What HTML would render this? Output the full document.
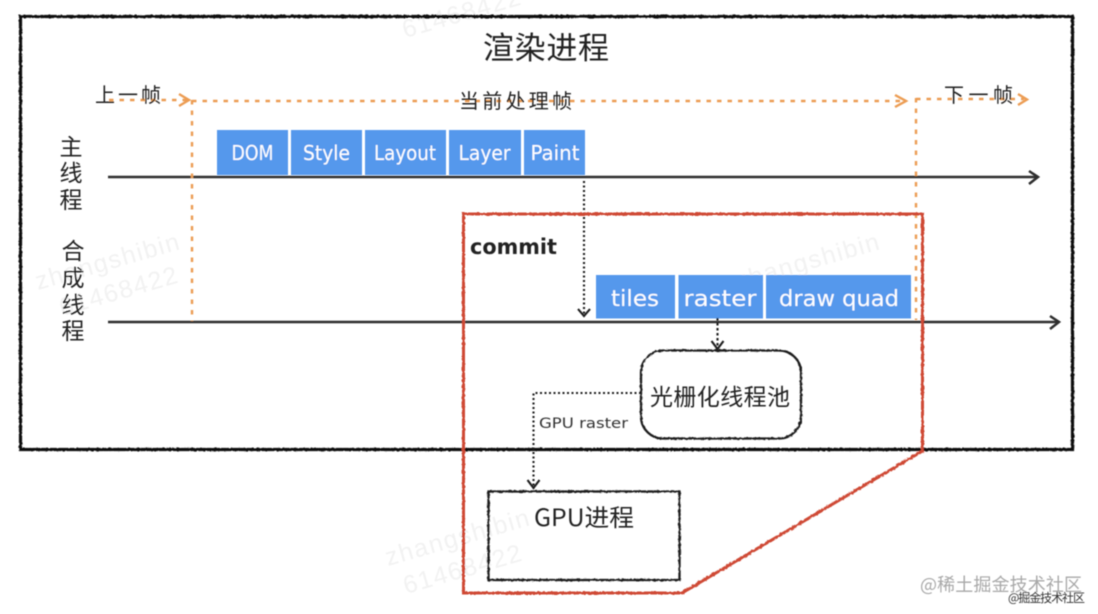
<!DOCTYPE html>
<html><head><meta charset="utf-8">
<style>
html,body{margin:0;padding:0;background:#fff;width:1098px;height:614px;overflow:hidden}
svg{display:block;font-family:"Liberation Sans","WenQuanYi Zen Hei","Noto Sans CJK SC",sans-serif}
.cjk{font-family:"WenQuanYi Zen Hei","Noto Sans CJK SC",sans-serif;fill:#222}
.lat{font-family:"DejaVu Sans","Liberation Sans",sans-serif}
.w{fill:#fff;font-family:"DejaVu Sans",sans-serif;text-anchor:middle}
.wm{font-family:"Liberation Sans",sans-serif;fill:#f2f2f2;font-size:25px;letter-spacing:1.500px}
</style></head><body>
<svg width="1098" height="614" viewBox="0 0 1098 614" xmlns="http://www.w3.org/2000/svg">
<defs>
<filter id="rough" x="-2%" y="-2%" width="104%" height="104%"><feTurbulence type="fractalNoise" baseFrequency="0.35" numOctaves="2" seed="3"/><feDisplacementMap in="SourceGraphic" scale="2"/></filter>
<filter id="soft"><feGaussianBlur stdDeviation="0.45"/></filter>
</defs>
<g filter="url(#soft)">
<!-- faint watermarks -->
<g class="wm">
<text transform="translate(38,290) rotate(-16)">zhangshibin</text>
<text transform="translate(62,316) rotate(-16)">61468422</text>
<text transform="translate(738,290) rotate(-16)">zhangshibin</text>
<text transform="translate(388,566) rotate(-16)">zhangshibin</text>
<text transform="translate(406,594) rotate(-16)">61468422</text>
<text transform="translate(405,38) rotate(-16)">61468422</text>
</g>
<!-- outer frame -->
<rect x="20.500" y="16.500" width="1052" height="433" fill="none" stroke="#111" stroke-width="3.200" filter="url(#rough)"/>
<!-- blue boxes -->
<g fill="#5598ec">
<rect x="217" y="130" width="71" height="45"/>
<rect x="291" y="130" width="71" height="45"/>
<rect x="365" y="130" width="81" height="45"/>
<rect x="449" y="130" width="72" height="45"/>
<rect x="524" y="130" width="61" height="45"/>
<rect x="596" y="275" width="79" height="43.500"/>
<rect x="678.500" y="275" width="84.500" height="43.500"/>
<rect x="766" y="275" width="145" height="43.500"/>
</g>
<g class="w" font-size="20">
<text x="252.500" y="160" textLength="42" lengthAdjust="spacingAndGlyphs">DOM</text>
<text x="326.500" y="160" textLength="47" lengthAdjust="spacingAndGlyphs">Style</text>
<text x="405" y="160" textLength="62" lengthAdjust="spacingAndGlyphs">Layout</text>
<text x="484.500" y="160" textLength="52" lengthAdjust="spacingAndGlyphs">Layer</text>
<text x="555" y="160" textLength="49" lengthAdjust="spacingAndGlyphs">Paint</text>
</g>
<g class="w" font-size="22">
<text x="635" y="306" textLength="48" lengthAdjust="spacingAndGlyphs">tiles</text>
<text x="720" y="306" textLength="73" lengthAdjust="spacingAndGlyphs">raster</text>
<text x="839" y="306" textLength="120" lengthAdjust="spacingAndGlyphs">draw quad</text>
</g>
<!-- timelines -->
<g fill="none" stroke="#2e2e2e" stroke-width="2.500">
<path d="M108 177H1036"/>
<path d="M1029 171L1038 177L1029 184"/>
<path d="M108 322H1057"/>
<path d="M1050 316L1059 322L1050 329"/>
</g>
<!-- orange dashed -->
<g fill="none" stroke="#ec9c52" stroke-width="2.400">
<path d="M109 100H188" stroke-dasharray="4.500 6"/>
<path d="M179 94L189 100L179 106"/>
<path d="M192 101H904" stroke-dasharray="4.500 6"/>
<path d="M895 95L906 101L895 107"/>
<path d="M192 100V321" stroke-dasharray="4.500 6"/>
<path d="M916 98V320" stroke-dasharray="4.500 6"/>
<path d="M916 99H1024" stroke-dasharray="4.500 6"/>
<path d="M1018 94L1027 99.500L1018 105"/>
</g>
<!-- dotted connectors -->
<g fill="none" stroke="#1c1c1c" stroke-width="2.100">
<path d="M584 181V315" stroke-dasharray="2 2.500"/>
<path d="M578 309L584 316L590 309"/>
<path d="M717.500 318V347" stroke-dasharray="2.500 2.500"/>
<path d="M711.500 341L717.500 349L723.500 341"/>
<path d="M641 393H533.500V487" stroke-dasharray="2 2.500"/>
<path d="M527.500 480L533.500 488L539.500 480"/>
</g>
<!-- rounded box and GPU box -->
<rect x="641" y="350.500" width="160" height="88" rx="22" fill="none" stroke="#1c1c1c" stroke-width="2.300" filter="url(#rough)"/>
<rect x="488.500" y="491.500" width="191" height="88.500" fill="none" stroke="#1c1c1c" stroke-width="2.300" filter="url(#rough)"/>
<!-- red polygon -->
<path d="M463.500 214H922.500V451L682 593H463.500Z" fill="none" stroke="#cf4a36" stroke-width="3" filter="url(#rough)"/>
<!-- labels -->
<text class="cjk" x="483" y="59" font-size="31" textLength="126">渲染进程</text>
<text class="cjk" x="95" y="102" font-size="20" textLength="66">上一帧</text>
<text class="cjk" x="459" y="108" font-size="20" textLength="113">当前处理帧</text>
<text class="cjk" x="944" y="102" font-size="20" textLength="69">下一帧</text>
<g class="cjk" font-size="23" text-anchor="middle">
<text x="71" y="155">主</text>
<text x="71" y="181">线</text>
<text x="71" y="208">程</text>
<text x="73" y="259">合</text>
<text x="73" y="286">成</text>
<text x="73" y="313">线</text>
<text x="73" y="339">程</text>
</g>
<text class="lat" x="470" y="254" font-size="21" font-weight="bold" fill="#222" textLength="87" lengthAdjust="spacingAndGlyphs">commit</text>
<text class="lat" x="539" y="428" font-size="14" fill="#333" textLength="89" lengthAdjust="spacingAndGlyphs">GPU raster</text>
<text class="cjk" x="650" y="405" font-size="23" textLength="140">光栅化线程池</text>
<text class="cjk" x="534" y="526" font-size="24" textLength="100" lengthAdjust="spacingAndGlyphs">GPU进程</text>
<text x="920" y="591" font-size="18" fill="#a8a8a8" font-family="'WenQuanYi Zen Hei','Noto Sans CJK SC',sans-serif" textLength="162">@稀土掘金技术社区</text>
<text x="1008" y="602" font-size="12" fill="#333" font-family="'WenQuanYi Zen Hei','Noto Sans CJK SC',sans-serif" textLength="77">@掘金技术社区</text>
</g>
</svg>
</body></html>
